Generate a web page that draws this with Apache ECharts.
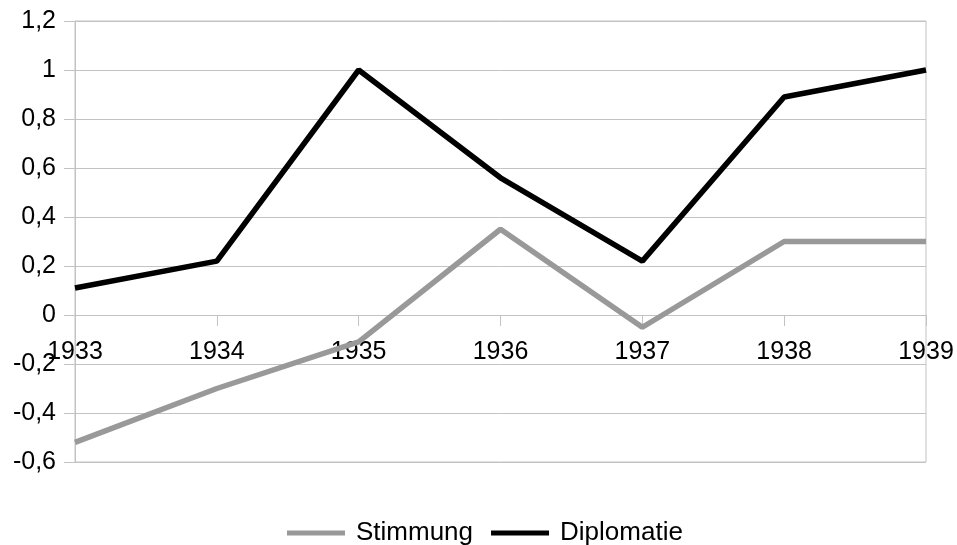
<!DOCTYPE html>
<html>
<head>
<meta charset="utf-8">
<script src="https://cdn.jsdelivr.net/npm/echarts@6/dist/echarts.min.js"></script>
<style>
	body { margin: 0; background: #fff; }
	#myLineChart { width: 957px; height: 545px; }
</style>
</head>
<body>
<div id="myLineChart"></div>
<script>
	// Jahre
	var years = ['1933', '1934', '1935', '1936', '1937', '1938', '1939'];
	// Werte der beiden Reihen
	var stimmung = [-0.52, -0.3, -0.11, 0.35, -0.05, 0.3, 0.3];
	var diplomatie = [0.11, 0.22, 1.0, 0.56, 0.22, 0.89, 1.0];

	var gridColor = '#c3c3c3';
	var font = 'Liberation Sans';

	var option = {
		animation: false,
		textStyle: { fontFamily: font },
		grid: {
			left: 75,
			right: 31,
			top: 21,
			bottom: 83,
			show: true,
			borderColor: gridColor,
			borderWidth: 1
		},
		legend: {
			top: 515,
			left: 282,
			icon: 'rect',
			itemWidth: 58,
			itemHeight: 5,
			itemGap: 18,
			textStyle: {
				fontSize: 26,
				color: '#000',
				padding: [0, 0, 0, 6]
			},
			data: ['Stimmung', 'Diplomatie']
		},
		xAxis: {
			type: 'category',
			boundaryGap: false,
			data: years,
			position: 'bottom',
			// Achse liegt bei 0, also 3 Schritte über dem unteren Rand
			offset: -147,
			axisLine: { onZero: false, lineStyle: { color: gridColor } },
			axisTick: { show: true, length: 11, lineStyle: { color: gridColor } },
			axisLabel: { interval: 0, fontSize: 25, color: '#000', margin: 25 },
			splitLine: { show: false }
		},
		yAxis: {
			type: 'value',
			min: -0.6,
			max: 1.2,
			interval: 0.2,
			axisLine: { show: true, lineStyle: { color: gridColor } },
			axisTick: { show: true, length: 11, lineStyle: { color: gridColor } },
			axisLabel: {
				fontSize: 25,
				color: '#000',
				margin: 19,
				formatter: function (v) {
					return String(Math.round(v * 10) / 10).replace('.', ',');
				}
			},
			splitLine: { lineStyle: { color: gridColor } }
		},
		series: [{
			name: 'Stimmung',
			type: 'line',
			data: stimmung,
			symbol: 'none',
			itemStyle: { color: '#999999' },
			lineStyle: { color: '#999999', width: 5.5 }
		}, {
			name: 'Diplomatie',
			type: 'line',
			data: diplomatie,
			symbol: 'none',
			itemStyle: { color: '#000000' },
			lineStyle: { color: '#000000', width: 5.5 }
		}]
	};
	var myChart = echarts.init(document.getElementById('myLineChart'));
	myChart.setOption(option);
</script>
</body>
</html>
